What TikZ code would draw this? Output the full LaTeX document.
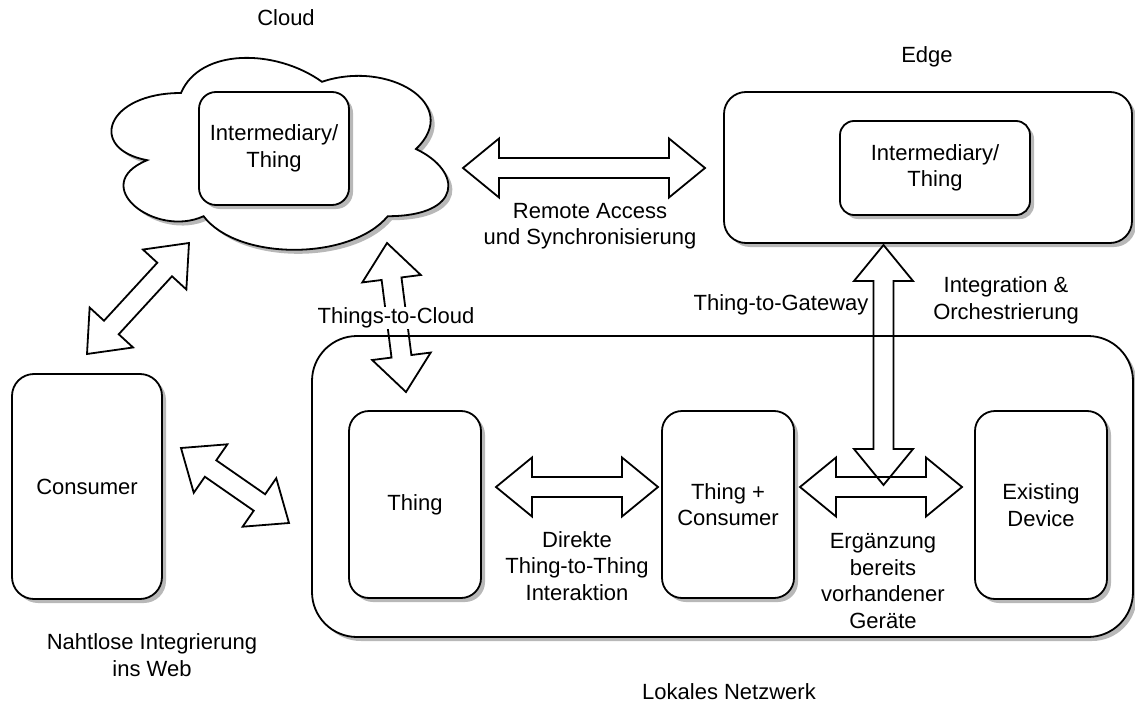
\documentclass[tikz,border=0pt]{standalone}
\usepackage{fontspec}
\setmainfont{Liberation Sans}
\usetikzlibrary{calc,shadows}

% double-headed block arrow between two named points
\newcommand\dblarrow[2]{%
  \draw[blockarrow] (#1)
    -- ($(#1)!36pt!(#2)!29.5pt!90:(#2)$)
    -- ($(#1)!36pt!(#2)!10pt!90:(#2)$)
    -- ($(#2)!36pt!(#1)!10pt!-90:(#1)$)
    -- ($(#2)!36pt!(#1)!29.5pt!-90:(#1)$)
    -- (#2)
    -- ($(#2)!36pt!(#1)!29.5pt!90:(#1)$)
    -- ($(#2)!36pt!(#1)!10pt!90:(#1)$)
    -- ($(#1)!36pt!(#2)!10pt!-90:(#2)$)
    -- ($(#1)!36pt!(#2)!29.5pt!-90:(#2)$)
    -- cycle;}

\begin{document}
\begin{tikzpicture}[x=1pt,y=-1pt,
  every node/.style={font=\fontsize{22}{26.4}\selectfont, align=center},
  lw/.style={line width=1.8pt},
  shade/.style={drop shadow={shadow xshift=4pt,shadow yshift=-4pt,fill=black!28,opacity=1}},
  box/.style={draw, lw, fill=white, shade, inner sep=0pt},
  blockarrow/.style={draw, lw, line join=miter},
  lbl/.style={inner sep=0pt}
]
\useasboundingbox (0,0) rectangle (1135,706);

% cloud outline
\begin{scope}[shift={(87,37)}, x=376pt, y=-224pt]
  \draw[lw, fill=white, shade] (0.25,0.25)
    .. controls (0.05,0.25) and (0,0.5) .. (0.16,0.55)
    .. controls (0,0.66) and (0.18,0.9) .. (0.31,0.8)
    .. controls (0.4,1) and (0.7,1) .. (0.8,0.8)
    .. controls (1,0.8) and (1,0.6) .. (0.875,0.5)
    .. controls (1,0.3) and (0.8,0.1) .. (0.625,0.2)
    .. controls (0.5,0.05) and (0.3,0.05) .. (0.25,0.25) -- cycle;
\end{scope}
\node[box, rounded corners=17pt, minimum width=150pt, minimum height=113pt] (cloudthing) at (274,148.5) {Intermediary/\\Thing};
\node[lbl] (cloudlbl) at (286,18) {Cloud};

% edge
\node[box, rounded corners=22pt, minimum width=408pt, minimum height=151pt] (edge) at (928,167.5) {};
\node[box, rounded corners=14pt, minimum width=190pt, minimum height=94pt] (edgething) at (935,168) {Intermediary/\\Thing};
\node[lbl] (edgelbl) at (927,57) {Edge};

% consumer
\node[box, rounded corners=22pt, minimum width=150pt, minimum height=225pt] (consumer) at (87,486.5) {Consumer};
\node[lbl] (weblbl) at (152,655) {Nahtlose Integrierung\\ins Web};

% local network
\node[box, rounded corners=45pt, minimum width=821pt, minimum height=301pt] (local) at (722.5,486.5) {};
\node[box, rounded corners=20pt, minimum width=132pt, minimum height=187pt] (thing) at (415,504.5) {Thing};
\node[box, rounded corners=20pt, minimum width=132pt, minimum height=187pt] (thingcons) at (728,504.5) {Thing +\\Consumer};
\node[box, rounded corners=20pt, minimum width=132pt, minimum height=188pt] (existing) at (1041,505) {Existing\\Device};
\node[lbl] (locallbl) at (729,692) {Lokales Netzwerk};

% arrow end points
\coordinate (rsA) at (463,168);   \coordinate (rsB) at (705,168);
\coordinate (ccA) at (189,243);   \coordinate (ccB) at (87,354);
\coordinate (clA) at (181,448);   \coordinate (clB) at (289,523);
\coordinate (tcA) at (387,243);   \coordinate (tcB) at (406,392);
\coordinate (tgA) at (883.5,245); \coordinate (tgB) at (883.5,485);
\coordinate (ttA) at (496,487);   \coordinate (ttB) at (658,487);
\coordinate (edA) at (800,487);   \coordinate (edB) at (962,487);

\dblarrow{rsA}{rsB}
\dblarrow{ccA}{ccB}
\dblarrow{clA}{clB}
\dblarrow{tcA}{tcB}
\dblarrow{edA}{edB}
\dblarrow{tgA}{tgB}
\dblarrow{ttA}{ttB}

% arrow labels
\node[lbl] (rslbl) at (590,226.5) {Remote Access\\und Synchronisierung};
\node[fill=white, inner sep=1pt] (tclbl) at (396,318) {Things-to-Cloud};
\node[lbl] (tglbl) at (781,305) {Thing-to-Gateway};
\node[lbl] (iolbl) at (1006,300.5) {Integration \&\\Orchestrierung};
\node[lbl] (ttlbl) at (577,566) {Direkte\\Thing-to-Thing\\Interaktion};
\node[lbl] (edlbl) at (883,581) {Ergänzung\\bereits\\vorhandener\\Geräte};
\end{tikzpicture}
\end{document}
